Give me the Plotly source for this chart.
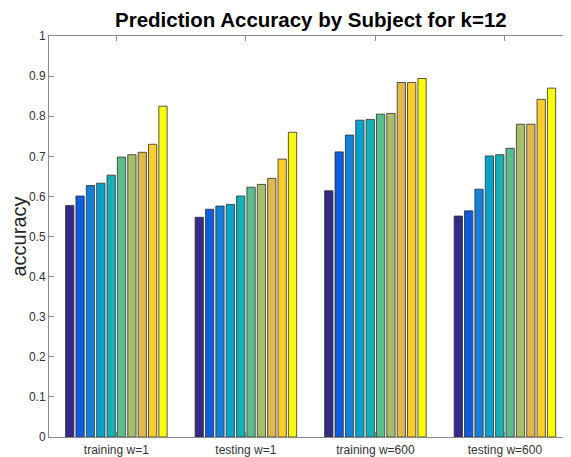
import plotly.graph_objects as go

categories = ["training w=1", "testing w=1", "training w=600", "testing w=600"]

training_w1 = [0.577, 0.601, 0.627, 0.633, 0.653, 0.698, 0.704, 0.710, 0.730, 0.825]
testing_w1 = [0.548, 0.568, 0.576, 0.580, 0.601, 0.623, 0.630, 0.645, 0.693, 0.760]
training_w600 = [0.614, 0.711, 0.753, 0.790, 0.792, 0.805, 0.807, 0.884, 0.884, 0.894]
testing_w600 = [0.551, 0.564, 0.618, 0.701, 0.704, 0.720, 0.780, 0.780, 0.842, 0.870]

y_ticks = [0, 0.1, 0.2, 0.3, 0.4, 0.5, 0.6, 0.7, 0.8, 0.9, 1]
y_tick_labels = ["0", "0.1", "0.2", "0.3", "0.4", "0.5", "0.6", "0.7", "0.8", "0.9", "1"]

colors = ["#352a87", "#0f5cdd", "#1481d6", "#06a4ca", "#14b0b4",
          "#5abd8c", "#a6be6a", "#e0b84d", "#fccd2b", "#f9fb0e"]

groups = [training_w1, testing_w1, training_w600, testing_w600]
x_pos = [1, 2, 3, 4]

fig = go.Figure()
for i in range(10):
    fig.add_trace(go.Bar(
        x=x_pos,
        y=[g[i] for g in groups],
        marker=dict(color=colors[i], line=dict(color="#303030", width=0.8)),
        showlegend=False,
    ))

axis_col = "#8a8a8a"
# page body has an 8px margin: figure is sized/offset to compensate
fig.update_layout(
    width=563, height=449,
    margin=dict(l=41, r=0, t=28, b=20),
    paper_bgcolor="white", plot_bgcolor="white",
    barmode="group", bargap=0.2, bargroupgap=0.2,
    title=dict(text="<b>Prediction Accuracy by Subject for k=12</b>",
               x=0.538, xanchor="center", y=0.974, yanchor="middle",
               font=dict(family="Liberation Sans, Arial", size=20.5, color="#000000")),
    font=dict(family="Liberation Sans, Arial", color="#262626"),
    xaxis=dict(
        range=[0.48, 4.51],
        tickvals=x_pos, ticktext=categories,
        ticks="inside", ticklen=5, tickcolor=axis_col, tickwidth=1,
        showline=True, linecolor=axis_col, linewidth=1, mirror="ticks",
        showgrid=False, zeroline=False, ticklabelstandoff=2,
        tickfont=dict(size=12, color="#333333"),
    ),
    yaxis=dict(
        range=[0, 1],
        tickvals=y_ticks, ticktext=y_tick_labels,
        ticks="inside", ticklen=5, tickcolor=axis_col, tickwidth=1,
        showline=True, linecolor=axis_col, linewidth=1,
        showgrid=False, zeroline=False,
        tickfont=dict(size=12, color="#333333"),
        title=dict(text="accuracy", font=dict(size=20, color="#262626"), standoff=5),
    ),
    yaxis2=dict(
        overlaying="y", side="right", range=[0, 1], matches="y",
        tickvals=y_ticks, showticklabels=False,
        ticks="inside", ticklen=5, tickcolor=axis_col, tickwidth=1,
        showline=False, showgrid=False, zeroline=False,
    ),
)
fig.add_trace(go.Scatter(x=[None], y=[None], yaxis="y2", showlegend=False))

fig.write_html("out.html")
